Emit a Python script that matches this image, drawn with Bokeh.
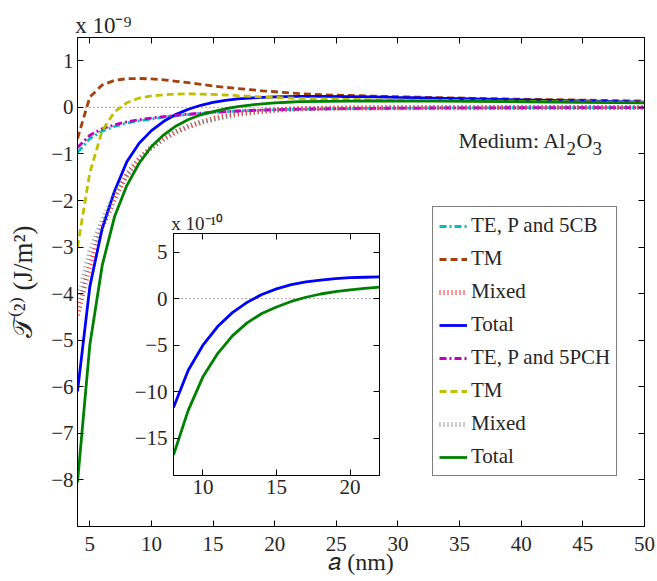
from bokeh.plotting import figure
from bokeh.models import (Range1d, LinearAxis, Label, Span, Legend, LegendItem,
                          FixedTicker, CustomJSTickFormatter)
from bokeh.layouts import column
from bokeh.embed import file_html
from bokeh.resources import INLINE

# ---------------- data (main plot, units of 1e-9 J/m^2) ----------------
a_nm = [4, 5, 6, 7, 8, 9, 10, 11, 12, 13, 14, 15, 16, 17, 18, 19, 20, 21, 22,
        24, 26, 28, 30, 33, 36, 40, 45, 50]

te_5cb = [-0.97, -0.67, -0.51, -0.41, -0.34, -0.29, -0.25, -0.21, -0.18, -0.155,
          -0.13, -0.11, -0.095, -0.082, -0.07, -0.06, -0.052, -0.046, -0.04,
          -0.032, -0.026, -0.021, -0.018, -0.014, -0.011, -0.008, -0.006, -0.004]
tm_5cb = [-0.67, 0.22, 0.48, 0.58, 0.615, 0.62, 0.61, 0.59, 0.56, 0.53,
          0.495, 0.46, 0.43, 0.405, 0.38, 0.355, 0.335, 0.315, 0.295,
          0.27, 0.255, 0.24, 0.228, 0.21, 0.195, 0.175, 0.155, 0.135]
mixed_5cb = [-4.46, -3.40, -2.57, -1.97, -1.445, -1.10, -0.86, -0.68, -0.53, -0.415,
             -0.32, -0.245, -0.185, -0.143, -0.11, -0.08, -0.058, -0.04, -0.03,
             -0.02, -0.015, -0.012, -0.01, -0.008, -0.006, -0.005, -0.004, -0.003]
total_5cb = [-6.10, -3.85, -2.60, -1.80, -1.17, -0.77, -0.50, -0.30, -0.15, -0.04,
             0.045, 0.105, 0.15, 0.18, 0.20, 0.215, 0.225, 0.23, 0.235,
             0.235, 0.232, 0.225, 0.213, 0.198, 0.182, 0.162, 0.137, 0.112]

te_5pch = [-0.86, -0.60, -0.46, -0.375, -0.31, -0.265, -0.23, -0.20, -0.17, -0.145,
           -0.125, -0.105, -0.09, -0.078, -0.067, -0.058, -0.05, -0.044, -0.038,
           -0.03, -0.025, -0.02, -0.017, -0.013, -0.01, -0.008, -0.006, -0.004]
tm_5pch = [-3.00, -1.40, -0.50, -0.10, 0.10, 0.20, 0.245, 0.27, 0.285, 0.29,
           0.285, 0.277, 0.265, 0.25, 0.237, 0.225, 0.213, 0.202, 0.192,
           0.18, 0.17, 0.162, 0.155, 0.148, 0.14, 0.13, 0.117, 0.105]
mixed_5pch = [-4.19, -3.10, -2.44, -1.875, -1.47, -1.135, -0.855, -0.66, -0.515, -0.405,
              -0.32, -0.262, -0.205, -0.157, -0.12, -0.092, -0.068, -0.048, -0.029,
              -0.02, -0.01, -0.005, -0.004, -0.004, -0.003, -0.003, -0.002, -0.002]
total_5pch = [-8.05, -5.10, -3.40, -2.35, -1.68, -1.20, -0.84, -0.59, -0.40, -0.26,
              -0.16, -0.09, -0.03, 0.015, 0.05, 0.075, 0.095, 0.11, 0.125,
              0.13, 0.135, 0.137, 0.137, 0.135, 0.13, 0.12, 0.108, 0.095]

# ---------------- data (inset, units of 1e-10 J/m^2) ----------------
a_inset = [8, 9, 10, 11, 12, 13, 14, 15, 16, 17, 18, 19, 20, 21, 22]
total_5cb_inset = [-11.7, -7.7, -5.0, -3.0, -1.5, -0.4, 0.45, 1.05, 1.5, 1.8,
                   2.0, 2.15, 2.25, 2.3, 2.35]
total_5pch_inset = [-16.8, -12.0, -8.4, -5.9, -4.0, -2.6, -1.6, -0.9, -0.3, 0.15,
                    0.5, 0.75, 0.95, 1.1, 1.25]

main_xticks = [5, 10, 15, 20, 25, 30, 35, 40, 45, 50]
main_yticks = [-8, -7, -6, -5, -4, -3, -2, -1, 0, 1]
inset_xticks = [10, 15, 20]
inset_yticks = [-15, -10, -5, 0, 5]

legend_labels = ["TE, P and 5CB", "TM", "Mixed", "Total",
                 "TE, P and 5PCH", "TM", "Mixed", "Total"]

FONT = "Liberation Serif"
TXT = "#262626"
NBSP = "\u00A0"

fmt = CustomJSTickFormatter(code="return (tick < 0 ? '\u2212' : '') + Math.abs(tick).toString();")
blank = CustomJSTickFormatter(code="return '';")


def style_axes(fig, xticks, yticks, size, xstand, ystand):
    fig.xaxis.ticker = FixedTicker(ticks=xticks)
    fig.yaxis.ticker = FixedTicker(ticks=yticks)
    for ax in fig.xaxis + fig.yaxis:
        ax.formatter = fmt
        ax.major_tick_in = 6
        ax.major_tick_out = 0
        ax.minor_tick_line_color = None
        ax.axis_line_color = "black"
        ax.major_tick_line_color = "black"
        ax.major_label_text_font = FONT
        ax.major_label_text_font_size = size
        ax.major_label_text_color = TXT
    fig.xaxis.major_label_standoff = xstand
    fig.yaxis.major_label_standoff = ystand
    top = LinearAxis(ticker=FixedTicker(ticks=xticks), formatter=blank,
                     major_tick_in=6, major_tick_out=0, minor_tick_line_color=None,
                     major_label_standoff=0, axis_line_color="black",
                     major_label_text_font_size="1px")
    right = LinearAxis(ticker=FixedTicker(ticks=yticks), formatter=blank,
                       major_tick_in=6, major_tick_out=0, minor_tick_line_color=None,
                       major_label_standoff=0, axis_line_color="black",
                       major_label_text_font_size="1px")
    fig.add_layout(top, "above")
    fig.add_layout(right, "right")
    fig.xgrid.visible = False
    fig.ygrid.visible = False
    fig.outline_line_color = "black"
    fig.outline_line_width = 1
    return top


# ---------------- main figure ----------------
p = figure(width=657, height=581, output_backend="svg", toolbar_location=None,
           x_range=Range1d(4, 50), y_range=Range1d(-9, 1.5),
           min_border_left=77, min_border_right=13, min_border_top=37, min_border_bottom=55,
           background_fill_color="white", border_fill_color="white")
p_top = style_axes(p, main_xticks, main_yticks, "21px", 10, 4)

xax = p.below[0]
xax.axis_label = "\U0001D44E (nm)"
xax.axis_label_text_font = FONT
xax.axis_label_text_font_style = "normal"
xax.axis_label_text_font_size = "24px"
xax.axis_label_text_color = TXT
xax.axis_label_standoff = -5
yax = p.left[0]
yax.axis_label = "\U0001D4AF\u207D\u00B2\u207E (J/m\u00B2)"
yax.axis_label_text_font = FONT
yax.axis_label_text_font_style = "normal"
yax.axis_label_text_font_size = "27px"
yax.axis_label_text_color = TXT
yax.axis_label_standoff = 10

p_top.axis_label = NBSP * 9 + "x 10\u207B\u2079"
p_top.axis_label_align = "start"
p_top.axis_label_text_font = FONT
p_top.axis_label_text_font_style = "normal"
p_top.axis_label_text_font_size = "23px"
p_top.axis_label_text_color = TXT
p_top.axis_label_standoff = 0

p.add_layout(Span(location=0, dimension="width", line_color="black", line_width=1,
                  line_dash="1 3", line_alpha=0.7, level="underlay"))

W = 2.8
r_te1 = p.line(a_nm, te_5cb, line_color="#00bfbf", line_width=W, line_dash="7 3 2 3")
r_tm1 = p.line(a_nm, tm_5cb, line_color="#a3400c", line_width=W, line_dash="7 4")
r_mx1 = p.line(a_nm, mixed_5cb, line_color="#ff2a2a", line_width=5, line_dash="1 3",
               line_cap="butt", line_alpha=1.0)
r_to1 = p.line(a_nm, total_5cb, line_color="#0000ff", line_width=W)
r_te2 = p.line(a_nm, te_5pch, line_color="#bf00bf", line_width=W, line_dash="7 3 2 3")
r_tm2 = p.line(a_nm, tm_5pch, line_color="#bfbf00", line_width=W, line_dash="7 4")
r_mx2 = p.line(a_nm, mixed_5pch, line_color="#808080", line_width=5, line_dash="1 3",
               line_cap="butt", line_alpha=0.8)
r_to2 = p.line(a_nm, total_5pch, line_color="#008000", line_width=W)

renderers = [r_te1, r_tm1, r_mx1, r_to1, r_te2, r_tm2, r_mx2, r_to2]
legend = Legend(items=[LegendItem(label=lab, renderers=[r]) for lab, r in zip(legend_labels, renderers)],
                location=(355, 50), label_text_font=FONT, label_text_font_size="21px",
                label_text_color=TXT, glyph_width=28, glyph_height=24, label_height=24,
                spacing=8, padding=6, margin=0, label_standoff=4,
                border_line_color="black", border_line_width=1, background_fill_alpha=1)
p.add_layout(legend)

# medium annotation
p.add_layout(Label(x=34.9, y=-0.71, text="Medium: Al", text_font=FONT, text_font_size="22px",
                   text_color=TXT, text_baseline="alphabetic"))
p.add_layout(Label(x=34.9, y=-0.71, text="2", x_offset=108, y_offset=-8, text_font=FONT,
                   text_font_size="19px", text_color=TXT, text_baseline="alphabetic"))
p.add_layout(Label(x=34.9, y=-0.71, text="O", x_offset=118, text_font=FONT, text_font_size="22px",
                   text_color=TXT, text_baseline="alphabetic"))
p.add_layout(Label(x=34.9, y=-0.71, text="3", x_offset=134, y_offset=-8, text_font=FONT,
                   text_font_size="19px", text_color=TXT, text_baseline="alphabetic"))

# ---------------- inset figure ----------------
ins = figure(width=296, height=300, output_backend="svg", toolbar_location=None,
             x_range=Range1d(8, 22), y_range=Range1d(-19, 7),
             min_border_left=77, min_border_right=13, min_border_top=30, min_border_bottom=28,
             background_fill_color="white", border_fill_color=None)
i_top = style_axes(ins, inset_xticks, inset_yticks, "21px", 4, 6)
i_top.axis_label = NBSP * 10 + "x 10\u207B\u00B9\u2070"
i_top.axis_label_align = "start"
i_top.axis_label_text_font = FONT
i_top.axis_label_text_font_style = "normal"
i_top.axis_label_text_font_size = "19px"
i_top.axis_label_text_color = TXT
i_top.axis_label_standoff = 0

ins.add_layout(Span(location=0, dimension="width", line_color="black", line_width=1,
                    line_dash="1 3", line_alpha=0.7, level="underlay"))
ins.line(a_inset, total_5cb_inset, line_color="#0000ff", line_width=W)
ins.line(a_inset, total_5pch_inset, line_color="#008000", line_width=W)
ins.styles = {"position": "absolute", "left": "96px", "top": "203px", "z-index": "5"}

layout = column(p, ins)
open("out.html", "w").write(file_html(layout, INLINE))
